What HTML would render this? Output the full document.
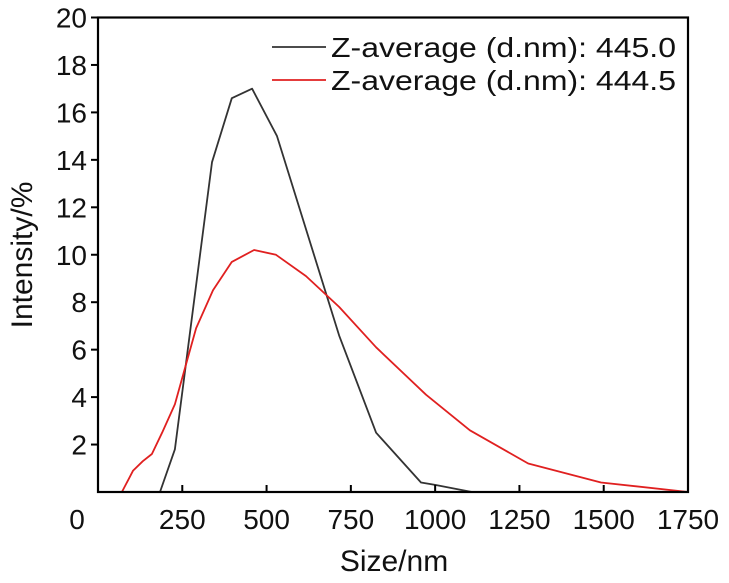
<!DOCTYPE html>
<html><head><meta charset="utf-8"><style>
body{margin:0;background:#fff}
svg text{font-family:"Liberation Sans",Arial,sans-serif;fill:#111}
</style></head><body>
<svg id="chart" width="729" height="578" xmlns="http://www.w3.org/2000/svg"></svg>
<script>
const xTicks=[250,500,750,1000,1250,1500,1750];
const yTicks=[2,4,6,8,10,12,14,16,18,20];
const blackX=[184,228,338,397,457,531,715,825,958,1000,1109];
const blackY=[0,1.8,13.9,16.6,17.0,15.0,6.6,2.5,0.4,0.3,0];
const redX=[71,104,133,160,190,228,291,341,397,463,528,617,715,825,973,1103,1276,1492,1750];
const redY=[0,0.9,1.3,1.6,2.5,3.7,6.9,8.5,9.7,10.2,10.0,9.1,7.8,6.1,4.1,2.6,1.2,0.4,0];
const seriesNames=["Z-average (d.nm): 445.0","Z-average (d.nm): 444.5"];
const L=98,R=688,T=17.5,B=492;
const sx=v=>L+v/1750*(R-L), sy=v=>B-v/20*(B-T);
const svg=document.getElementById('chart');
const NS='http://www.w3.org/2000/svg';
function mk(tag,attrs,parent){const e=document.createElementNS(NS,tag);for(const k in attrs)e.setAttribute(k,attrs[k]);(parent||svg).appendChild(e);return e;}
function path(xs,ys,color,name){
  const d=xs.map((x,i)=>(i?'L':'M')+sx(x).toFixed(1)+' '+sy(ys[i]).toFixed(1)).join(' ');
  const p=mk('path',{d:d,fill:'none',stroke:color,'stroke-width':1.8,'stroke-linejoin':'round'});
  
  
}
path(blackX,blackY,'#333','series-445-line');
path(redX,redY,'#e02020','series-444-line');
const frame=mk('rect',{x:L,y:T,width:R-L,height:B-T,fill:'none',stroke:'#000','stroke-width':2.2});


xTicks.forEach(v=>{
  const t=mk('line',{x1:sx(v),x2:sx(v),y1:B,y2:B-7,stroke:'#000','stroke-width':2});
  
  
  const l=mk('text',{x:sx(v),y:529,'text-anchor':'middle','font-size':28});
  l.textContent=v;
  
  
});
const z=mk('text',{x:77,y:529,'text-anchor':'middle','font-size':28});z.textContent='0';


yTicks.forEach(v=>{
  const t=mk('line',{x1:L,x2:L-7,y1:sy(v),y2:sy(v),stroke:'#000','stroke-width':2});
  
  
  const l=mk('text',{x:87,y:sy(v)+10,'text-anchor':'end','font-size':28});
  l.textContent=v;
  
  
});
const xt=mk('text',{x:394,y:571,'text-anchor':'middle','font-size':30});xt.textContent='Size/nm';


const yt=mk('text',{x:0,y:0,'text-anchor':'middle','font-size':30,transform:'translate(32,255) rotate(-90)'});yt.textContent='Intensity/%';


['#333','#e02020'].forEach((c,i)=>{
  const y=47+i*33;
  const ln=mk('line',{x1:272,x2:326,y1:y,y2:y,stroke:c,'stroke-width':1.8});
  
  
  const tx=mk('text',{x:331,y:y+10,'font-size':28,textLength:345,lengthAdjust:'spacingAndGlyphs'});tx.textContent=seriesNames[i];
  
  
});
</script>
</body></html>
